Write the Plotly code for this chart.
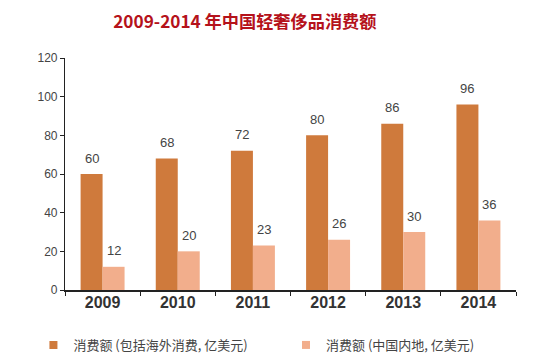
import plotly.graph_objects as go

years = ["2009", "2010", "2011", "2012", "2013", "2014"]
total_values = [60, 68, 72, 80, 86, 96]
mainland_values = [12, 20, 23, 26, 30, 36]
series_names = ["消费额 (包括海外消费, 亿美元)", "消费额 (中国内地, 亿美元)"]
y_ticks = [0, 20, 40, 60, 80, 100, 120]

dark = "#CF7A3C"
light = "#F2AE8C"
font_cjk = "Noto Sans CJK SC"

fig = go.Figure()
fig.add_trace(go.Bar(x=years, y=total_values, name=series_names[0], showlegend=False,
                     marker=dict(color=dark, line=dict(width=0))))
fig.add_trace(go.Bar(x=years, y=mainland_values, name=series_names[1], showlegend=False,
                     marker=dict(color=light, line=dict(width=0))))
# legend entries with small square swatches
fig.add_trace(go.Scatter(x=[None], y=[None], mode="markers", name=series_names[0],
                         legend="legend",
                         marker=dict(symbol="square", size=8, color=dark)))
fig.add_trace(go.Scatter(x=[None], y=[None], mode="markers", name=series_names[1],
                         legend="legend2",
                         marker=dict(symbol="square", size=8, color=light)))

annotations = []
for vals, xs in ((total_values, -11), (mainland_values, 11)):
    for i, v in enumerate(vals):
        annotations.append(dict(x=i, y=v, text=str(v), showarrow=False,
                                xshift=xs, yshift=16, xref="x", yref="y",
                                font=dict(size=13, color="#444", family="Liberation Sans")))

legend_font = dict(size=13, color="#444", family=font_cjk)
fig.update_layout(
    width=542, height=355,
    margin=dict(l=57, r=34, t=50, b=73, autoexpand=False),
    paper_bgcolor="white", plot_bgcolor="white",
    barmode="group", bargap=0.415, bargroupgap=0,
    title=dict(text="<b>2009-2014 年中国轻奢侈品消费额</b>", x=0.437, xanchor="center",
               y=0.962, yanchor="middle",
               font=dict(size=17.2, color="#B5121B", family=font_cjk)),
    xaxis=dict(type="category", range=[-0.5, len(years) - 0.5],
               showline=True, linecolor="#222", linewidth=1.5,
               ticks="outside", tickson="boundaries", ticklen=4, tickcolor="#222",
               showgrid=False, ticklabelstandoff=-3,
               tickfont=dict(size=16, color="#333", family="Liberation Sans", weight="bold")),
    yaxis=dict(range=[0, 120], tickvals=y_ticks, showline=True, linecolor="#222",
               linewidth=1.2, ticks="outside", ticklen=4, tickcolor="#222",
               showgrid=False, zeroline=False,
               tickfont=dict(size=12, color="#444", family="Liberation Sans")),
    legend=dict(orientation="h", x=-0.07, xanchor="left", y=-0.237, yanchor="middle",
                itemwidth=30, font=legend_font),
    legend2=dict(orientation="h", x=0.49, xanchor="left", y=-0.237, yanchor="middle",
                 itemwidth=30, font=legend_font),
    annotations=annotations,
)

fig.write_html("out.html")
